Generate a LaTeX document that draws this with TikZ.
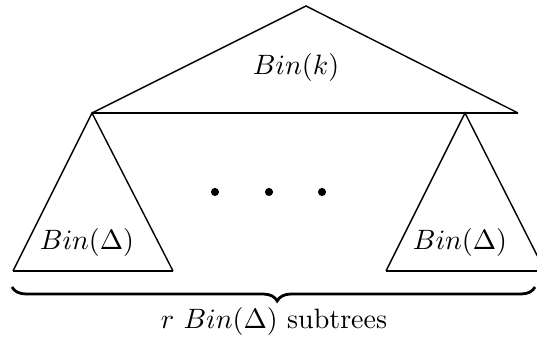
\documentclass[tikz,border=0pt]{standalone}
\usetikzlibrary{decorations.pathreplacing}
\begin{document}
\begin{tikzpicture}[x=0.357pt,y=-0.357pt,
  thin line/.style={line width=0.5pt,line join=miter},
  thick line/.style={line width=1pt},
  dotnode/.style={circle,fill=black,inner sep=0pt,minimum size=2.9pt},
  lbl/.style={inner sep=0pt}]
\useasboundingbox (0,0) rectangle (537,338);
% top triangle
\coordinate (top) at (306,6);
\coordinate (tl) at (92,113);
\coordinate (tr) at (518,113);
\draw[thin line] (tl) -- (top) -- (tr);
\draw[thick line] (tl) -- (tr);
\node[lbl] (bink) at (296,68) {$Bin(k)$};
% left subtree
\coordinate (lbl1) at (13,271);
\coordinate (lbr1) at (173,271);
\draw[thin line] (lbl1) -- (tl) -- (lbr1);
\draw[thick line] (lbl1) -- (lbr1);
\node[lbl] (bind1) at (87,243) {$Bin(\Delta)$};
% right subtree
\coordinate (ra) at (465,113);
\coordinate (rbl) at (386,271);
\coordinate (rbr) at (545,271);
\draw[thin line] (rbl) -- (ra) -- (rbr);
\draw[thick line] (rbl) -- (rbr);
\node[lbl] (bind2) at (460,243) {$Bin(\Delta)$};
% dots
\node[dotnode] (d1) at (215,192) {};
\node[dotnode] (d2) at (269,192) {};
\node[dotnode] (d3) at (322,192) {};
% brace
\coordinate (bl) at (12,287);
\coordinate (br) at (535,287);
\draw[thick line,decorate,decoration={brace,mirror,amplitude=5pt,aspect=0.507}] (bl) -- (br);
\node[lbl] (sub) at (274,322) {$r\ Bin(\Delta)$ subtrees};
\end{tikzpicture}
\end{document}
